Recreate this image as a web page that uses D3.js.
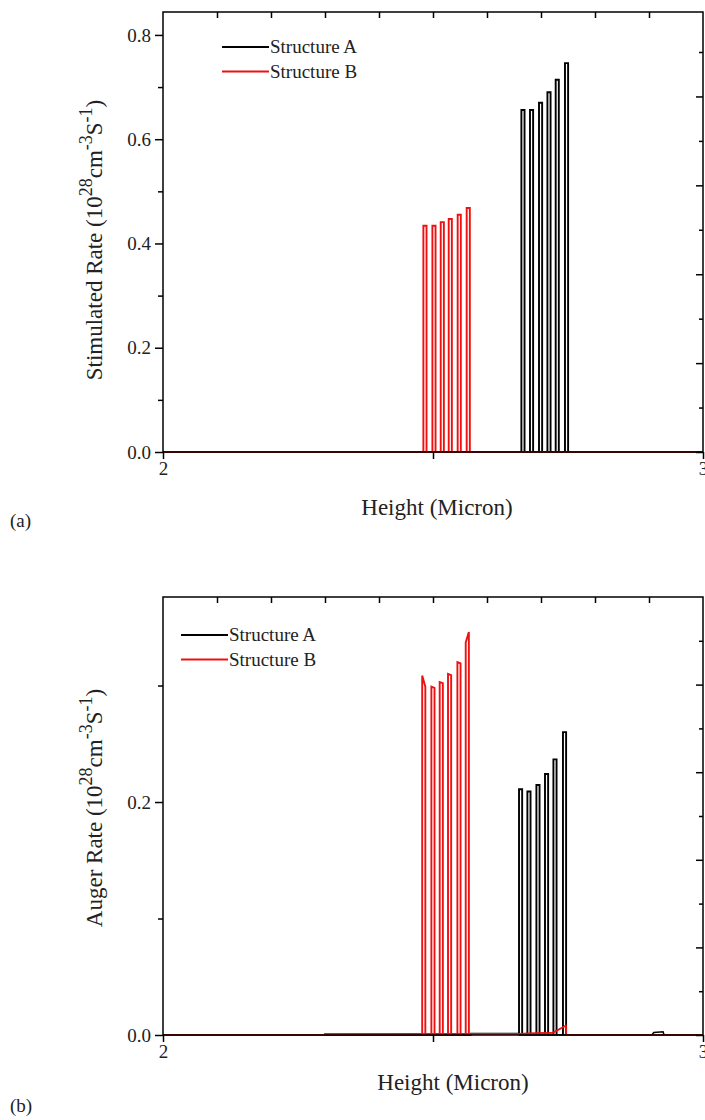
<!DOCTYPE html>
<html>
<head>
<meta charset="utf-8">
<script src="https://cdn.jsdelivr.net/npm/d3@7"></script>
<style>
  body { margin: 0; background: #fff; }
  svg { display: block; }
  svg text { font-family: "Liberation Serif", "Times New Roman", Times, "DejaVu Serif", serif; fill: #222; }
</style>
</head>
<body>
<div id="chart"></div>
<script>
// ---- data ----
var seriesNames = ["Structure A", "Structure B"];
var seriesColors = ["#000000", "#ee1111"];

// x axis, height in micron
var xDomain = [2, 3];
var xTopTicks = [2.1, 2.2, 2.3, 2.4, 2.5, 2.6, 2.7, 2.8, 2.9];
var xBottomTicks = [2, 2.5, 3];
var xLabelTicks = [2, 3];
var wellWidth = 0.0058;

// (a) stimulated rate, 10^28 cm^-3 s^-1
var stimDomain = [0, 0.844];
var stimMajor = [0, 0.2, 0.4, 0.6, 0.8];
var stimMinor = [0.1, 0.3, 0.5, 0.7];
var stimWellStartA = [2.6637, 2.6796, 2.6963, 2.7119, 2.7272, 2.7444];
var stimPeakA = [0.656, 0.656, 0.670, 0.690, 0.714, 0.746];
var stimWellStartB = [2.4822, 2.4989, 2.5143, 2.5291, 2.5457, 2.5624];
var stimPeakB = [0.434, 0.434, 0.441, 0.447, 0.455, 0.468];
var stimBaseA = [[2, 0], [3, 0]];
var stimBaseB = [[2, 0], [3, 0]];

// (b) auger rate, 10^28 cm^-3 s^-1
var augDomain = [0, 0.376];
var augMajor = [0, 0.2];
var augMinor = [0.1, 0.3];
var augWellStartA = [2.6593, 2.6748, 2.6915, 2.7074, 2.7230, 2.7407];
var augPeakLeftA = [0.211, 0.209, 0.2146, 0.224, 0.2366, 0.260];
var augPeakRightA = [0.211, 0.209, 0.2146, 0.224, 0.2366, 0.260];
var augWellStartB = [2.4800, 2.4970, 2.5124, 2.5278, 2.5452, 2.5606];
var augPeakLeftB = [0.3085, 0.299, 0.303, 0.310, 0.320, 0.337];
var augPeakRightB = [0.299, 0.298, 0.302, 0.309, 0.319, 0.346];
var augBaseA = [[2, 0], [2.57, 0], [2.57, 0.0012], [2.66, 0.0012], [2.66, 0], [2.905, 0],
    [2.909, 0.0022], [2.926, 0.0028], [2.928, 0], [3, 0]];
var augBaseB = [[2, 0], [2.30, 0], [2.30, 0.0008], [2.66, 0.001], [2.722, 0.002],
    [2.746, 0.008], [2.747, 0], [3, 0]];

// right hand axis (ticks only, no labels)
var rightDomainA = [0, 0.99];
var rightDomainB = [0, 1.0];
var rightMajor = [0, 0.2, 0.4, 0.6, 0.8];
var rightMinor = [0.1, 0.3, 0.5, 0.7, 0.9];

var svg = d3.select("#chart").append("svg")
    .attr("width", 705)
    .attr("height", 1120);

function drawPanel(opt) {
    var x = d3.scaleLinear().domain(xDomain).range([opt.left, opt.right]);
    var y = d3.scaleLinear().domain(opt.yDomain).range([opt.bottom, opt.top]);
    var yr = d3.scaleLinear().domain(opt.rightDomain).range([opt.bottom, opt.top]);
    var g = svg.append("g");

    var line = d3.line()
        .x(function (d) { return x(d[0]); })
        .y(function (d) { return y(d[1]); });

    // series: black first, red drawn on top
    opt.series.forEach(function (s, i) {
        var sg = g.append("g")
            .attr("fill", "none")
            .attr("stroke", seriesColors[i])
            .attr("stroke-width", 1.9)
            .attr("stroke-linejoin", "miter");
        sg.append("path").datum(s.base).attr("d", line).attr("stroke-width", 1.5);
        sg.selectAll("path.well")
            .data(s.starts)
            .enter().append("path")
            .attr("class", "well")
            .attr("d", function (d, k) {
                return line([[d, 0], [d, s.left[k]], [d + wellWidth, s.right[k]], [d + wellWidth, 0]]);
            });
    });

    // red baseline over everything, as in the figure
    g.append("path").datum(opt.series[1].base)
        .attr("fill", "none").attr("stroke", seriesColors[1]).attr("stroke-width", 1.5)
        .attr("d", line);

    // frame
    g.append("rect")
        .attr("x", opt.left).attr("y", opt.top)
        .attr("width", opt.right - opt.left).attr("height", opt.bottom - opt.top)
        .attr("fill", "none").attr("stroke", "#000").attr("stroke-width", 1.5);

    function styleAxis(a) {
        a.attr("font-family", null).attr("font-size", null);
        a.select(".domain").remove();
        a.selectAll("line").attr("stroke", "#000").attr("stroke-width", 1.5);
        a.selectAll("text").attr("fill", "#222").style("font-size", "19px");
    }

    // left axis
    g.append("g").attr("transform", "translate(" + opt.left + ",0)")
        .call(d3.axisLeft(y).tickValues(opt.yMajor).tickSize(8).tickPadding(4).tickFormat(d3.format(".1f")))
        .call(styleAxis);
    g.append("g").attr("transform", "translate(" + opt.left + ",0)")
        .call(d3.axisLeft(y).tickValues(opt.yMinor).tickSize(5).tickFormat(""))
        .call(styleAxis);

    // right axis, ticks point inward
    g.append("g").attr("transform", "translate(" + opt.right + ",0)")
        .call(d3.axisLeft(yr).tickValues(rightMajor).tickSize(7).tickFormat(""))
        .call(styleAxis);
    g.append("g").attr("transform", "translate(" + opt.right + ",0)")
        .call(d3.axisLeft(yr).tickValues(rightMinor).tickSize(4).tickFormat(""))
        .call(styleAxis);

    // bottom axis
    g.append("g").attr("transform", "translate(0," + opt.bottom + ")")
        .call(d3.axisBottom(x).tickValues(xBottomTicks).tickSize(7).tickPadding(3)
            .tickFormat(function (d) { return xLabelTicks.indexOf(d) >= 0 ? d3.format("d")(d) : ""; }))
        .call(styleAxis);

    // top axis, ticks point inward
    g.append("g").attr("transform", "translate(0," + opt.top + ")")
        .call(d3.axisBottom(x).tickValues(xTopTicks).tickSize(6).tickFormat(""))
        .call(styleAxis);

    // axis titles
    g.append("text")
        .attr("x", opt.xTitleX).attr("y", opt.xTitleY)
        .attr("text-anchor", "middle")
        .style("font-size", "23px")
        .text("Height (Micron)");

    var yt = g.append("text")
        .attr("transform", "translate(" + opt.yTitleX + "," + opt.yTitleY + ") rotate(-90)")
        .attr("text-anchor", "middle")
        .style("font-size", "23px");
    yt.append("tspan").text(opt.yTitle + " (10");
    yt.append("tspan").attr("dy", -10).style("font-size", "18px").text("28");
    yt.append("tspan").attr("dy", 10).text("cm");
    yt.append("tspan").attr("dy", -10).style("font-size", "18px").text("-3");
    yt.append("tspan").attr("dy", 10).text("S");
    yt.append("tspan").attr("dy", -10).style("font-size", "18px").text("-1");
    yt.append("tspan").attr("dy", 10).text(")");

    // legend
    seriesNames.forEach(function (name, i) {
        var ly = opt.legendY + i * 24.5;
        g.append("line")
            .attr("x1", opt.legendX).attr("x2", opt.legendX + 47)
            .attr("y1", ly).attr("y2", ly)
            .attr("stroke", seriesColors[i]).attr("stroke-width", 1.8);
        g.append("text")
            .attr("x", opt.legendX + 48).attr("y", ly + 6)
            .style("font-size", "19px")
            .text(name);
    });

    // panel tag
    g.append("text")
        .attr("x", 10).attr("y", opt.tagY)
        .style("font-size", "19px")
        .text(opt.tag);
}

drawPanel({
    left: 163, right: 703, top: 12, bottom: 452,
    yDomain: stimDomain, yMajor: stimMajor, yMinor: stimMinor,
    rightDomain: rightDomainA,
    series: [
        { starts: stimWellStartA, left: stimPeakA, right: stimPeakA, base: stimBaseA },
        { starts: stimWellStartB, left: stimPeakB, right: stimPeakB, base: stimBaseB }
    ],
    yTitle: "Stimulated Rate",
    yTitleX: 102, yTitleY: 240,
    xTitleX: 437, xTitleY: 515,
    legendX: 222, legendY: 47,
    tag: "(a)", tagY: 527
});

drawPanel({
    left: 163, right: 703, top: 597, bottom: 1035,
    yDomain: augDomain, yMajor: augMajor, yMinor: augMinor,
    rightDomain: rightDomainB,
    series: [
        { starts: augWellStartA, left: augPeakLeftA, right: augPeakRightA, base: augBaseA },
        { starts: augWellStartB, left: augPeakLeftB, right: augPeakRightB, base: augBaseB }
    ],
    yTitle: "Auger Rate",
    yTitleX: 102, yTitleY: 808,
    xTitleX: 453, xTitleY: 1090,
    legendX: 181, legendY: 635,
    tag: "(b)", tagY: 1112
});
</script>
</body>
</html>
